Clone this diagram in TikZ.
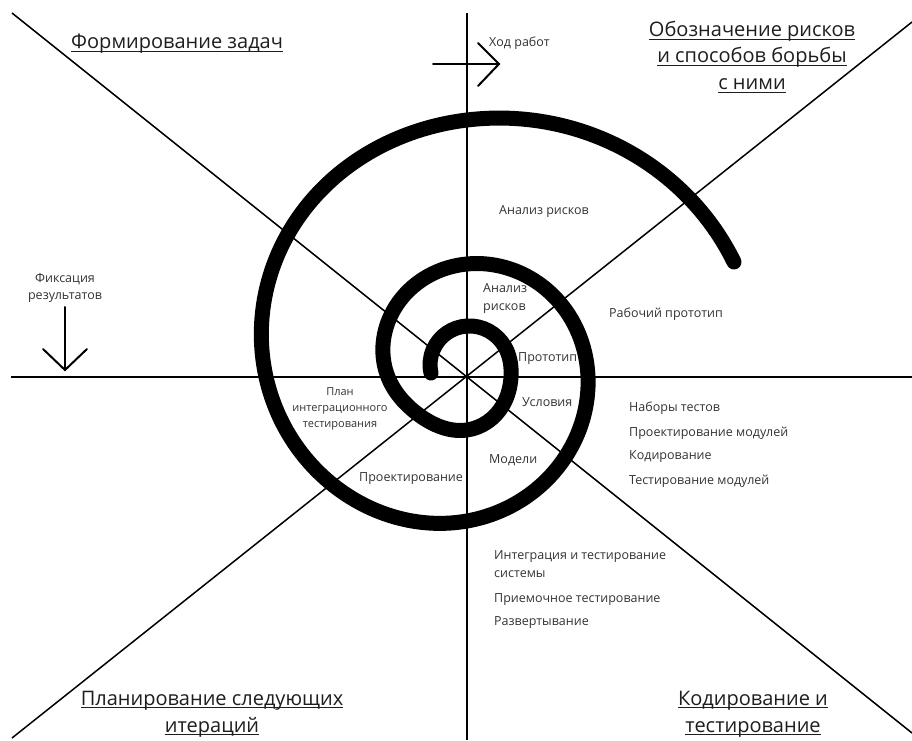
\documentclass[tikz,border=0pt]{standalone}
\usepackage{fontspec}
\setmainfont{Open Sans}
\usetikzlibrary{hobby}
\definecolor{txt}{HTML}{333333}
\definecolor{headc}{HTML}{1E1E1E}
\newsavebox\ulbox
\newcommand{\myul}[1]{\sbox\ulbox{#1}\rlap{\rule[-3pt]{\wd\ulbox}{1.1pt}}\usebox\ulbox}
\begin{document}
\begin{tikzpicture}[x=1pt,y=1pt,
  axisline/.style={line width=1.5pt, black},
  spiralline/.style={line width=15pt, line cap=round, line join=round},
  arrowline/.style={line width=2pt, line cap=round, line join=miter},
  lbl/.style={font=\fontsize{12.5}{15}\selectfont, text=txt, inner sep=0pt},
  lblsmall/.style={font=\fontsize{11}{13}\selectfont, text=txt, inner sep=0pt},
  head/.style={font=\fontsize{20}{24}\selectfont, text=headc, inner sep=0pt},
]
\fill[white] (0,0) rectangle (912,740);
\useasboundingbox (0,0) rectangle (912,740);

% axes
\coordinate (C) at (467,363);
\coordinate (axW) at (11,363);   \coordinate (axE) at (912,363);
\coordinate (axN) at (467,727);  \coordinate (axS) at (467,0);
\coordinate (axNW) at (12,727);  \coordinate (axSE) at (912,7);
\coordinate (axSW) at (12,2);    \coordinate (axNE) at (912,718);
\draw[axisline] (axW) -- (axE);
\draw[axisline] (axN) -- (axS);
\draw[axisline] (axNW) -- (axSE);
\draw[axisline] (axSW) -- (axNE);

% spiral
\draw[spiralline, use Hobby shortcut]
  (431,367) .. (433,390) .. (467,414) .. (505,393) .. (511,363) .. (503,335) .. (467,310)
  .. (419,325) .. (388,363) .. (391,425) .. (467,476) .. (560,437) .. (588,363) .. (566,284)
  .. (467,219) .. (333,255) .. (266,363) .. (288,506) .. (467,620) .. (690,541) .. (734,478);

% arrows
\coordinate (hs) at (433,676); \coordinate (he) at (499,676);
\coordinate (hu) at (478,697); \coordinate (hd) at (478,654);
\draw[arrowline] (hs) -- (he);
\draw[arrowline] (hu) -- (he) -- (hd);
\coordinate (vs) at (65,433); \coordinate (ve) at (65,370);
\coordinate (vl) at (43,391); \coordinate (vr) at (87,391);
\draw[arrowline] (vs) -- (ve);
\draw[arrowline] (vl) -- (ve) -- (vr);

% labels
\node[lbl, anchor=base west] (hod) at (489,693) {Ход работ};
\node[lbl, anchor=base west] (ar1) at (499,525) {Анализ рисков};
\node[lbl, anchor=base west] (ar2a) at (483,447) {Анализ};
\node[lbl, anchor=base west] (ar2b) at (483,429) {рисков};
\node[lbl, anchor=base west] (rp) at (609,423) {Рабочий прототип};
\node[lbl, anchor=base west] (proto) at (518,379) {Прототип};
\node[lbl, anchor=base west] (usl) at (522,334) {Условия};
\node[lbl, anchor=base west] (mod) at (489,277) {Модели};
\node[lbl, anchor=base west] (proekt) at (359,259) {Проектирование};
\node[lblsmall, anchor=base] (plan1) at (340,345) {План};
\node[lblsmall, anchor=base] (plan2) at (340,329) {интеграционного};
\node[lblsmall, anchor=base] (plan3) at (340,313) {тестирования};
\node[lbl, anchor=base] (fix1) at (65,457) {Фиксация};
\node[lbl, anchor=base] (fix2) at (65,440) {результатов};
\node[lbl, anchor=base west] (nt1) at (629,329) {Наборы тестов};
\node[lbl, anchor=base west] (nt2) at (629,304) {Проектирование модулей};
\node[lbl, anchor=base west] (nt3) at (629,281) {Кодирование};
\node[lbl, anchor=base west] (nt4) at (629,256) {Тестирование модулей};
\node[lbl, anchor=base west] (it1) at (494,181) {Интеграция и тестирование};
\node[lbl, anchor=base west] (it2) at (494,163) {системы};
\node[lbl, anchor=base west] (it3) at (494,138) {Приемочное тестирование};
\node[lbl, anchor=base west] (it4) at (494,115) {Развертывание};

% headings
\node[head, anchor=base west] (h1) at (71,691) {\myul{Формирование задач}};
\node[head, anchor=base] (h2a) at (752,703) {\myul{Обозначение рисков}};
\node[head, anchor=base] (h2b) at (752,677) {\myul{и способов борьбы}};
\node[head, anchor=base] (h2c) at (752,650) {\myul{с ними}};
\node[head, anchor=base] (h3a) at (753,35) {\myul{Кодирование и}};
\node[head, anchor=base] (h3b) at (753,8) {\myul{тестирование}};
\node[head, anchor=base] (h4a) at (212,35) {\myul{Планирование следующих}};
\node[head, anchor=base] (h4b) at (212,8) {\myul{итераций}};
\end{tikzpicture}
\end{document}
